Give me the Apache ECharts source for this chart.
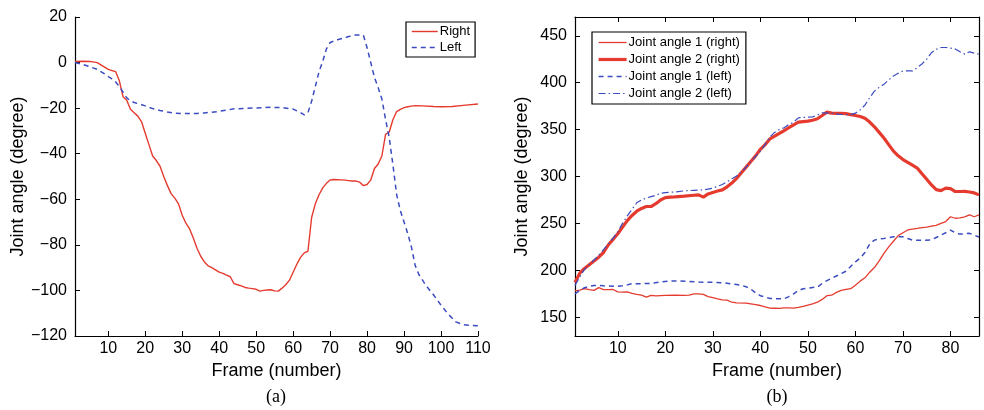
<!DOCTYPE html>
<html>
<head>
<meta charset="utf-8">
<script src="https://cdn.jsdelivr.net/npm/echarts@6/dist/echarts.min.js"></script>
<style>
  html, body { margin: 0; padding: 0; background: #fff; }
  #chart { width: 984px; height: 410px; }
</style>
</head>
<body>
<div id="chart"></div>
<script>
// panel (a): single joint angle, right vs left
const aRightFrames = [1, 3, 5, 7, 8, 9, 10, 11, 12, 13, 14, 15, 16, 17, 18, 19, 20, 21, 22, 23, 24, 25, 26, 27, 28, 29, 30, 31, 32, 33, 34, 35, 36, 37, 38, 39, 40, 41, 42, 43, 44, 45, 46, 47, 48, 49, 50, 51, 52, 53, 54, 55, 56, 57, 58, 59, 60, 61, 62, 63, 64, 65, 66, 67, 68, 69, 70, 71, 72, 73, 74, 75, 76, 77, 78, 79, 80, 81, 82, 83, 84, 85, 86, 87, 88, 89, 90, 91, 92, 93, 95, 98, 100, 103, 106, 110];
const aRightValues = [0.5, 0.6, 0.5, 0, -1, -2, -3, -3.5, -4, -8, -15, -16.5, -20.5, -22, -23.5, -26, -31, -36, -41, -43, -45.5, -50, -54, -57.5, -59.5, -62, -67, -70.5, -73, -77, -81.5, -85, -87.5, -89.2, -90, -91, -92, -92.5, -93.3, -94, -97, -97.5, -98, -98.7, -99, -99.2, -99.5, -100.3, -100, -99.8, -99.7, -100.2, -100.3, -99, -97.5, -95.5, -92, -88.5, -85.5, -83.5, -82.8, -68, -62, -58, -55, -53, -51.5, -51.3, -51.4, -51.5, -51.6, -51.8, -52, -52, -52.5, -54, -53.5, -51.5, -46.5, -44.5, -41, -31.5, -30.5, -25, -21.5, -20.5, -19.8, -19.4, -19.1, -18.9, -19, -19.3, -19.4, -19.3, -18.8, -18.2];

const aLeftFrames = [1, 3, 5, 7, 8, 9, 10, 11, 12, 13, 14, 15, 16, 17, 18, 20, 22, 24, 26, 28, 30, 32, 34, 36, 38, 40, 42, 44, 47, 50, 54, 57, 60, 62, 63, 64, 65, 66, 67, 68, 69, 70, 72, 75, 77, 79, 80, 81, 82, 83, 84, 85, 86, 87, 88, 89, 90, 91, 92, 93, 94, 95, 96, 98, 100, 102, 104, 106, 108, 110];
const aLeftValues = [0, -0.8, -1.8, -3, -4, -5, -6.2, -7.2, -8.5, -10.5, -13, -15.5, -16.8, -17.5, -18, -19, -20.2, -21, -21.7, -22.2, -22.4, -22.4, -22.3, -22.1, -21.8, -21.4, -20.9, -20.3, -20.1, -19.9, -19.6, -19.8, -20.4, -22, -23, -22, -17, -10.5, -4, 0.5, 6, 8.8, 10, 11.4, 12.1, 12, 6.5, 0, -6.5, -11, -16, -25, -33, -45, -58, -65, -70, -75, -81, -89, -93, -95.5, -98, -102, -106.5, -110.5, -113.8, -115, -115.3, -115.5];

// panel (b): two joint angles per side
const b1RightFrames = [1, 2, 3, 4, 5, 6, 7, 8, 9, 10, 11, 12, 13, 14, 15, 16, 17, 18, 20, 22, 24, 25, 26, 27, 28, 29, 30, 31, 32, 33, 34, 35, 37, 39, 40, 41, 42, 43, 44, 45, 46, 47, 48, 49, 50, 51, 52, 53, 54, 55, 56, 57, 58, 59, 60, 61, 62, 63, 64, 65, 66, 67, 68, 69, 70, 71, 72, 73, 74, 75, 76, 77, 78, 79, 80, 81, 82, 83, 84, 85, 86];
const b1RightValues = [178, 179, 180.5, 179.5, 178.6, 181.5, 179.5, 179.4, 179.6, 177, 176.8, 177, 175.5, 174.3, 173.5, 171.4, 173.2, 172.8, 173.2, 173.5, 173.2, 173.5, 175, 175, 174.3, 172, 170.8, 169.5, 168.5, 168.3, 166, 165.3, 165, 163.5, 162.5, 161, 159.7, 159.6, 159.5, 160, 160, 159.8, 160.5, 161.5, 163, 164.3, 166, 169, 173, 173.5, 176.5, 178.6, 179.8, 180.4, 184, 188.5, 192, 198, 203, 210, 218, 225, 231, 237, 240, 243, 244, 244.7, 245.5, 246, 247, 248, 250, 252, 257.1, 255.5, 256, 257, 259, 257.1, 259];

const b2RightFrames = [1, 2, 3, 4, 5, 6, 7, 8, 9, 10, 11, 12, 13, 14, 15, 16, 17, 18, 19, 20, 21, 22, 24, 26, 27, 28, 29, 30, 31, 32, 33, 34, 35, 36, 37, 38, 39, 40, 41, 42, 43, 44, 45, 46, 47, 48, 49, 50, 51, 52, 53, 54, 55, 56, 57, 58, 59, 60, 61, 62, 63, 64, 65, 66, 67, 68, 69, 70, 71, 72, 73, 74, 75, 76, 77, 78, 79, 80, 81, 82, 83, 84, 85, 86];
const b2RightValues = [187, 197, 202, 206, 210, 214, 219, 227, 233, 239, 246, 253, 258.5, 263, 266, 268, 268, 271, 275, 277.5, 278, 278.3, 279, 280, 280.4, 278, 281.4, 283, 284.5, 285.7, 289, 293, 298, 304, 310, 316, 322, 329, 334, 340, 343, 346, 349, 352, 355, 358, 358.5, 359, 360, 361.5, 365, 368.6, 367.5, 367.2, 367.2, 367, 366, 365, 364, 362, 358, 353, 347, 341, 334, 327, 322, 318, 315, 312, 309, 303, 297, 291, 286, 285, 287.6, 287, 284, 284, 284.2, 283.5, 282.5, 280.4];

const b1LeftFrames = [1, 2, 3, 4, 5, 6, 7, 8, 10, 11, 12, 13, 15, 17, 19, 21, 23, 25, 27, 30, 32, 34, 35, 36, 37, 38, 39, 40, 41, 42, 43, 45, 46, 47, 48, 49, 50, 51, 52, 53, 54, 55, 56, 57, 58, 59, 60, 61, 62, 63, 64, 65, 66, 68, 70, 71, 72, 74, 76, 77, 78, 79, 80, 81, 82, 83, 84, 85, 86];
const b1LeftValues = [175, 178.5, 181.5, 183, 183.8, 184, 183.5, 183.2, 182.9, 183.5, 184.5, 185.8, 185.8, 186, 187.5, 188.6, 188.6, 188, 187.5, 187.2, 186.8, 185.5, 185, 184, 182.5, 180, 176, 173, 171.5, 170, 169.7, 169.7, 172, 175, 178.5, 180.4, 181, 181.8, 182.1, 186, 189, 191.5, 194, 196.5, 199, 204, 209, 213, 219, 228, 232.2, 233.5, 234, 235.7, 235.7, 234, 232.2, 232, 232.5, 235, 237.5, 240, 242.9, 240, 238.6, 239, 239.4, 237.5, 235.5];

const b2LeftFrames = [1, 2, 3, 4, 5, 6, 7, 8, 9, 10, 11, 12, 13, 14, 15, 16, 17, 18, 19, 20, 22, 24, 26, 28, 30, 31, 32, 33, 34, 35, 36, 37, 38, 39, 40, 41, 42, 43, 44, 45, 46, 47, 48, 49, 51, 52, 53, 55, 57, 59, 60, 61, 62, 63, 64, 65, 66, 67, 68, 69, 70, 72, 73, 74, 75, 76, 77, 78, 79, 80, 81, 82, 83, 84, 85, 86];
const b2LeftValues = [184, 193, 201, 206, 211, 216, 222, 228, 234, 241, 250, 258, 265, 272, 275, 277, 278.6, 280, 282, 282.9, 283.5, 284.7, 285.3, 285.7, 287.6, 289.5, 291.5, 294.5, 297.5, 300.5, 305, 310, 316, 321.4, 327, 334, 342, 347, 350, 352, 355.4, 358, 362.5, 363, 363.6, 365.5, 367.9, 367.5, 366.1, 366, 367.5, 371, 376, 384, 391, 395, 398.2, 403, 407.1, 410, 412.5, 412.5, 416, 420, 425, 432, 435.5, 437.5, 437.5, 436.8, 436, 433, 430.4, 432.9, 431.5, 430.4];

// tick labels
const aXTicks = [10, 20, 30, 40, 50, 60, 70, 80, 90, 100, 110];
const aYTicks = [-120, -100, -80, -60, -40, -20, 0, 20];
const bXTicks = [10, 20, 30, 40, 50, 60, 70, 80];
const bYTicks = [150, 200, 250, 300, 350, 400, 450];

const RED = '#e53b2f';
const BLUE = '#3b4cc0';
const FONT = '"Liberation Sans", Arial, sans-serif';

function pairs(frames, values) {
  return frames.map((f, i) => [f, values[i]]);
}

function fmt(v) {
  return v < 0 ? '\u2212' + Math.abs(v) : String(v);
}

function makeAxis(opts) {
  return {
    type: 'value',
    gridIndex: opts.grid,
    position: opts.position,
    min: opts.min,
    max: opts.max,
    name: opts.name || '',
    nameLocation: 'middle',
    nameGap: opts.nameGap || 0,
    nameTextStyle: { fontSize: 18, color: '#000', fontFamily: FONT },
    axisLine: { show: true, onZero: false, lineStyle: { color: '#000', width: 1.2 } },
    axisTick: { show: true, inside: true, length: 5, customValues: opts.ticks, lineStyle: { color: '#000', width: 1 } },
    axisLabel: {
      show: opts.labels !== false,
      customValues: opts.ticks,
      formatter: fmt,
      fontSize: 16,
      color: '#000',
      fontFamily: FONT,
      margin: opts.margin || 8
    },
    splitLine: { show: false }
  };
}

// legend: line only, hide the symbol drawn on top of it
const legendBase = {
  orient: 'vertical',
  itemHeight: 10,
  borderColor: '#000',
  borderWidth: 1.2,
  backgroundColor: '#fff',
  itemStyle: { opacity: 0, borderWidth: 0 },
  textStyle: { fontSize: 13, color: '#000', fontFamily: FONT, padding: [0, 0, 0, -3] }
};

var chart = echarts.init(document.getElementById('chart'));

var option = {
  animation: false,
  backgroundColor: '#fff',
  grid: [
    { left: 75, top: 17, width: 403, height: 319 },
    { left: 575, top: 17, width: 404, height: 319 }
  ],
  xAxis: [
    makeAxis({ grid: 0, position: 'bottom', min: 1, max: 110, ticks: aXTicks, name: 'Frame (number)', nameGap: 24, margin: 5 }),
    makeAxis({ grid: 1, position: 'bottom', min: 1, max: 86, ticks: bXTicks, name: 'Frame (number)', nameGap: 24, margin: 5 }),
    makeAxis({ grid: 1, position: 'top', min: 1, max: 86, ticks: bXTicks, labels: false })
  ],
  yAxis: [
    makeAxis({ grid: 0, position: 'left', min: -120, max: 20, ticks: aYTicks, name: 'Joint angle (degree)', nameGap: 44 }),
    makeAxis({ grid: 1, position: 'left', min: 130, max: 470, ticks: bYTicks, name: 'Joint angle (degree)', nameGap: 44 }),
    makeAxis({ grid: 1, position: 'right', min: 130, max: 470, ticks: bYTicks, labels: false })
  ],
  legend: [
    Object.assign({}, legendBase, {
      data: [
        { name: 'Right', lineStyle: { width: 1.4 } },
        { name: 'Left', lineStyle: { width: 1.5 } }
      ],
      left: 406,
      top: 22,
      itemWidth: 26,
      itemGap: 3,
      padding: [3, 5, 3, 5]
    }),
    Object.assign({}, legendBase, {
      data: [
        { name: 'Joint angle 1 (right)', lineStyle: { width: 1.3 } },
        { name: 'Joint angle 2 (right)', lineStyle: { width: 3.2 } },
        { name: 'Joint angle 1 (left)', lineStyle: { width: 1.5 } },
        { name: 'Joint angle 2 (left)', lineStyle: { width: 1.2 } }
      ],
      left: 592,
      top: 32,
      itemWidth: 28,
      itemGap: 4,
      padding: [4, 6, 4, 5]
    })
  ],
  graphic: [
    { type: 'text', x: 276, y: 397, style: { text: '(a)', align: 'center', verticalAlign: 'middle', font: '18px "Liberation Serif", serif', fill: '#000' } },
    { type: 'text', x: 777, y: 397, style: { text: '(b)', align: 'center', verticalAlign: 'middle', font: '18px "Liberation Serif", serif', fill: '#000' } }
  ],
  series: [
    {
      name: 'Right', type: 'line', xAxisIndex: 0, yAxisIndex: 0, symbol: 'none',
      data: pairs(aRightFrames, aRightValues),
      lineStyle: { color: RED, width: 1.4 }, itemStyle: { color: RED }
    },
    {
      name: 'Left', type: 'line', xAxisIndex: 0, yAxisIndex: 0, symbol: 'none',
      data: pairs(aLeftFrames, aLeftValues),
      lineStyle: { color: BLUE, width: 1.5, type: [5, 4] }, itemStyle: { color: BLUE }
    },
    {
      name: 'Joint angle 1 (right)', type: 'line', xAxisIndex: 1, yAxisIndex: 1, symbol: 'none',
      data: pairs(b1RightFrames, b1RightValues),
      lineStyle: { color: RED, width: 1.3 }, itemStyle: { color: RED }
    },
    {
      name: 'Joint angle 2 (right)', type: 'line', xAxisIndex: 1, yAxisIndex: 1, symbol: 'none',
      data: pairs(b2RightFrames, b2RightValues),
      lineStyle: { color: RED, width: 3.2 }, itemStyle: { color: RED }
    },
    {
      name: 'Joint angle 1 (left)', type: 'line', xAxisIndex: 1, yAxisIndex: 1, symbol: 'none',
      data: pairs(b1LeftFrames, b1LeftValues),
      lineStyle: { color: BLUE, width: 1.5, type: [5, 4] }, itemStyle: { color: BLUE }
    },
    {
      name: 'Joint angle 2 (left)', type: 'line', xAxisIndex: 1, yAxisIndex: 1, symbol: 'none',
      data: pairs(b2LeftFrames, b2LeftValues),
      lineStyle: { color: BLUE, width: 1.2, type: [7, 3, 1.5, 3] }, itemStyle: { color: BLUE }
    }
  ]
};

chart.setOption(option);
</script>
</body>
</html>
